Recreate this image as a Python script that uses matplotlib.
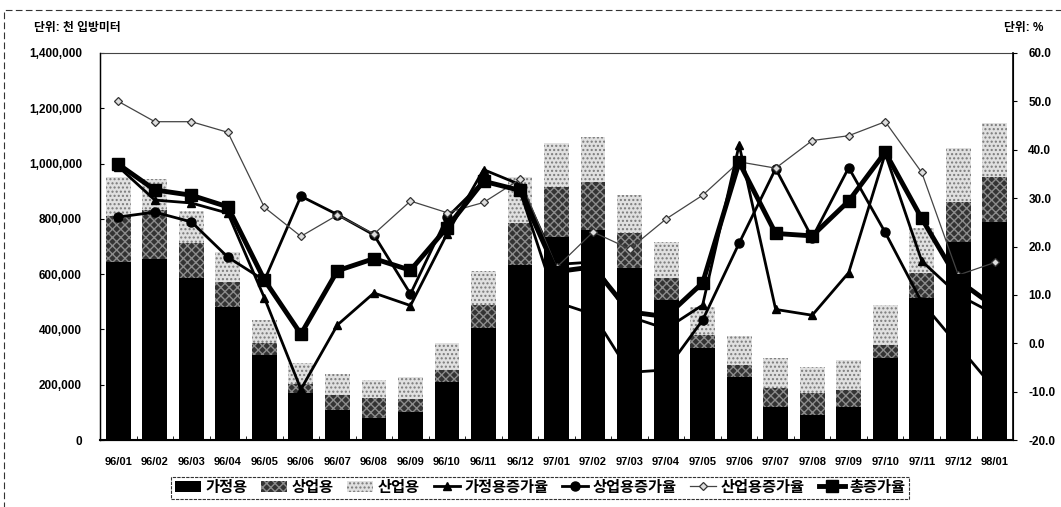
import matplotlib
matplotlib.use("Agg")
import matplotlib.pyplot as plt
from matplotlib.patches import Rectangle
import numpy as np

plt.rcParams["font.family"] = ["Liberation Sans", "Noto Sans CJK KR", "DejaVu Sans"]
plt.rcParams["font.weight"] = "bold"

months = ["96/01", "96/02", "96/03", "96/04", "96/05", "96/06", "96/07", "96/08", "96/09",
          "96/10", "96/11", "96/12", "97/01", "97/02", "97/03", "97/04", "97/05", "97/06",
          "97/07", "97/08", "97/09", "97/10", "97/11", "97/12", "98/01"]

# 천 입방미터
household = [645000, 655000, 586000, 481000, 307000, 170000, 108000, 80000, 101000,
             210000, 405000, 633000, 734000, 760000, 622000, 506000, 333000, 228000,
             119000, 90000, 119000, 297000, 513000, 716000, 789000]
commercial = [165000, 177000, 127000, 91000, 44000, 33000, 55000, 72000, 47000,
              43000, 83000, 152000, 181000, 173000, 127000, 80000, 47000, 43000,
              69000, 80000, 62000, 47000, 91000, 145000, 162000]
industrial = [140000, 113000, 115000, 108000, 83000, 75000, 76000, 65000, 80000,
              98000, 123000, 166000, 159000, 163000, 137000, 130000, 101000, 105000,
              109000, 94000, 108000, 144000, 163000, 195000, 196000]

# %
household_rate = [36.5, 29.6, 29.0, 26.9, 9.4, -9.5, 3.8, 10.4, 7.8, 22.6, 35.9, 32.8,
                  16.3, 16.8, 5.5, 3.0, 7.9, 41.0, 7.0, 5.8, 14.6, 39.2, 17.0, 10.0, 6.0]
commercial_rate = [26.1, 27.1, 25.1, 17.8, 13.0, 30.4, 26.6, 22.4, 10.2, 26.0, 33.5, 31.5,
                   8.5, 6.0, -6.0, -5.5, 4.8, 20.7, 36.1, 21.8, 36.3, 22.9, 8.5, -0.5, -9.5]
industrial_rate = [50.0, 45.8, 45.8, 43.6, 28.1, 22.1, 26.5, 22.6, 29.4, 27.0, 29.1, 33.9,
                   15.7, 23.0, 19.5, 25.7, 30.6, 37.5, 36.2, 41.9, 42.9, 45.8, 35.3, 14.1, 16.7]
total_rate = [37.0, 31.7, 30.6, 28.2, 13.1, 1.9, 15.0, 17.5, 15.1, 23.9, 33.5, 31.6,
              14.8, 15.8, 6.5, 5.5, 12.5, 37.4, 22.7, 22.2, 29.4, 39.5, 25.8, 13.0, 7.5]

x = np.arange(len(months))

fig = plt.figure(figsize=(10.61, 5.07), dpi=100)
ax = fig.add_axes([0.0943, 0.132, 0.8605, 0.7635])

bw = 0.68
hh = np.array(household)
cc = np.array(commercial)
ii = np.array(industrial)
b1 = ax.bar(x, hh, bw, color="black", linewidth=0, zorder=2)
b2 = ax.bar(x, cc, bw, bottom=hh, facecolor="#333333", edgecolor="#8c8c8c",
            hatch="xxxx", linewidth=0, zorder=2)
b3 = ax.bar(x, ii, bw, bottom=hh + cc, facecolor="#e0e0e0", edgecolor="#7a7a7a",
            hatch="....", linewidth=0, zorder=2)

ax.set_xlim(-0.5, len(months) - 0.5)
ax.set_ylim(0, 1400000)
ax.set_yticks(np.arange(0, 1400001, 200000))
ax.set_yticklabels([f"{v:,}" for v in range(0, 1400001, 200000)], fontsize=8.5, fontweight="bold")
ax.set_xticks(x)
ax.set_xticklabels(months, fontsize=8, fontweight="bold")
ax.set_xticks(np.arange(-0.5, len(months), 1), minor=True)
ax.tick_params(axis="x", which="major", length=0, pad=12)
ax.tick_params(axis="x", which="minor", length=3, direction="in")
ax.tick_params(axis="y", length=3, direction="in", pad=13)
ax.spines["top"].set_linestyle((0, (1, 1)))
ax.spines["top"].set_linewidth(0.8)
ax.spines["top"].set_color("#444444")
ax.spines["left"].set_linewidth(1.0)
ax.spines["bottom"].set_linewidth(1.5)

ax2 = ax.twinx()
ax2.set_ylim(-20, 60)
ax2.set_yticks(np.arange(-20, 61, 10))
ax2.set_yticklabels([f"{v:.1f}" for v in range(-20, 61, 10)], fontsize=8.5, fontweight="bold")
ax2.tick_params(axis="y", length=3, direction="out", pad=8)
ax2.spines["top"].set_visible(False)
ax2.spines["right"].set_linewidth(1.2)

l1, = ax2.plot(x, household_rate, color="black", lw=2.0, marker="^", ms=6)
l2, = ax2.plot(x, commercial_rate, color="black", lw=2.0, marker="o", ms=6.5)
l3, = ax2.plot(x, industrial_rate, color="#444444", lw=0.9, marker="D", ms=4,
               mfc="#dddddd", mec="#333333", mew=0.9)
l4, = ax2.plot(x, total_rate, color="black", lw=3.5, marker="s", ms=8.5)

fig.text(0.032, 0.945, "단위: 천 입방미터", fontsize=8.5, fontweight="bold", va="center")
fig.text(0.983, 0.945, "단위: %", fontsize=8.5, fontweight="bold", va="center", ha="right")

leg = fig.legend([b1, b2, b3, l1, l2, l3, l4],
                 ["가정용", "상업용", "산업용", "가정용증가율", "상업용증가율", "산업용증가율", "총증가율"],
                 loc="center", bbox_to_anchor=(0.509, 0.038), ncol=7, fontsize=11,
                 frameon=True, fancybox=False, edgecolor="black", handlelength=1.7,
                 handletextpad=0.3, columnspacing=0.9, borderpad=0.25)
leg.get_frame().set_linewidth(0.8)
leg.get_frame().set_linestyle((0, (3, 1)))

fig.patches.append(Rectangle((0.004, -0.02), 1.2, 1.0, transform=fig.transFigure,
                             fill=False, lw=0.8, ls=(0, (6, 3)), ec="#333333"))

fig.savefig("out.png", dpi=100)
